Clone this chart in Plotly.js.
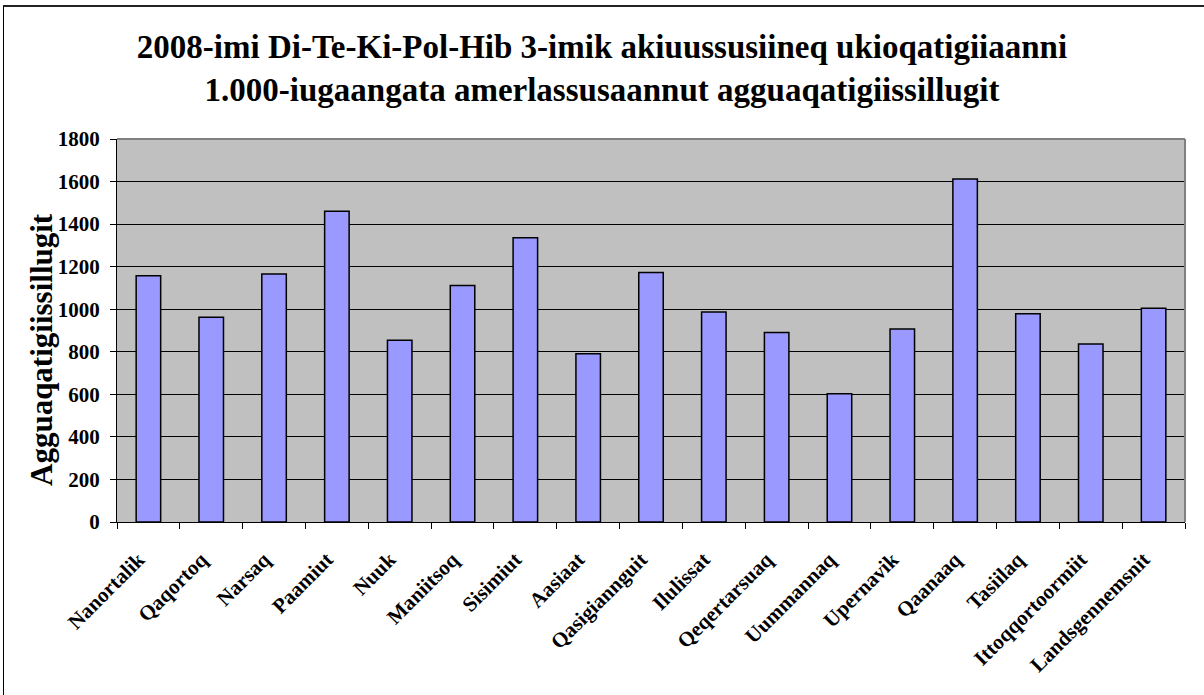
<!DOCTYPE html>
<html>
<head>
<meta charset="utf-8">
<script src="https://cdn.plot.ly/plotly-3.0.1.min.js"></script>
<style>
html,body{margin:0;padding:0;background:#fff;overflow:hidden;}
#wrap{position:relative;width:1204px;height:695px;overflow:hidden;}
#chart{width:1204px;height:695px;}
#frame{position:absolute;left:3px;top:5px;width:1300px;height:800px;border-left:1px solid #000;border-top:2px solid #222;pointer-events:none;}
</style>
</head>
<body>
<div id="wrap"><div id="chart"></div><div id="frame"></div></div>
<script>
const categories = ["Nanortalik","Qaqortoq","Narsaq","Paamiut","Nuuk","Maniitsoq","Sisimiut","Aasiaat","Qasigiannguit","Ilulissat","Qeqertarsuaq","Uummannaq","Upernavik","Qaanaaq","Tasiilaq","Ittoqqortoormiit","Landsgennemsnit"];
const values = [1157,962,1165,1461,854,1112,1336,791,1173,987,891,603,907,1612,979,836,1004];
const yTicks = [0,200,400,600,800,1000,1200,1400,1600,1800];
const titleText = "2008-imi Di-Te-Ki-Pol-Hib 3-imik akiuussusiineq ukioqatigiiaanni<br>1.000-iugaangata amerlassusaannut agguaqatigiissillugit";
const yTitle = "Agguaqatigiissillugit";

const font = "'Liberation Serif','Times New Roman',serif";
const M = {l: 117, r: 19, t: 139, b: 173};
const W = 1204, H = 695;
const pw = W - M.l - M.r, ph = H - M.t - M.b;

const trace = {
  type: "bar",
  x: categories,
  y: values,
  marker: {color: "#9999FF", line: {color: "#000", width: 1.5}},
  hoverinfo: "x+y"
};

const layout = {
  width: W, height: H,
  margin: M,
  paper_bgcolor: "#fff",
  plot_bgcolor: "#C0C0C0",
  bargap: 0.61,
  showlegend: false,
  font: {family: font, color: "#000"},
  title: {
    text: titleText,
    font: {family: font, size: 33, color: "#000", weight: "bold"},
    x: 0.5, xanchor: "center",
    y: 1 - 58/H, yanchor: "top"
  },
  xaxis: {
    type: "category",
    tickangle: -45,
    tickson: "boundaries",
    ticks: "outside", ticklen: 6, tickcolor: "#000", tickwidth: 1,
    ticklabelstandoff: 16,
    ticklabelshift: -10,
    showline: true, linecolor: "#000", linewidth: 1,
    showgrid: false,
    tickfont: {family: font, size: 21, color: "#000", weight: "bold"},
    fixedrange: true
  },
  yaxis: {
    range: [0, 1800],
    tickvals: yTicks,
    ticktext: yTicks.map(String),
    ticks: "outside", ticklen: 6, tickcolor: "#000", tickwidth: 1,
    ticklabelstandoff: 6,
    showline: true, linecolor: "#000", linewidth: 1,
    showgrid: true, gridcolor: "#000", gridwidth: 1,
    zeroline: false,
    tickfont: {family: font, size: 21, color: "#000", weight: "bold"},
    fixedrange: true
  },
  annotations: [{
    text: yTitle,
    textangle: -90,
    xref: "paper", yref: "paper",
    x: (41 - M.l) / pw, y: (H - M.b - 350) / ph,
    xanchor: "center", yanchor: "middle",
    showarrow: false,
    font: {family: font, size: 31, color: "#000", weight: "bold"}
  }],
  shapes: [
    {type: "line", xref: "paper", yref: "paper", x0: 0, x1: 1, y0: 1, y1: 1, line: {color: "#808080", width: 2}},
    {type: "line", xref: "paper", yref: "paper", x0: 1, x1: 1, y0: 0, y1: 1, line: {color: "#808080", width: 2}}
  ]
};

Plotly.newPlot("chart", [trace], layout, {displayModeBar: false});
</script>
</body>
</html>
